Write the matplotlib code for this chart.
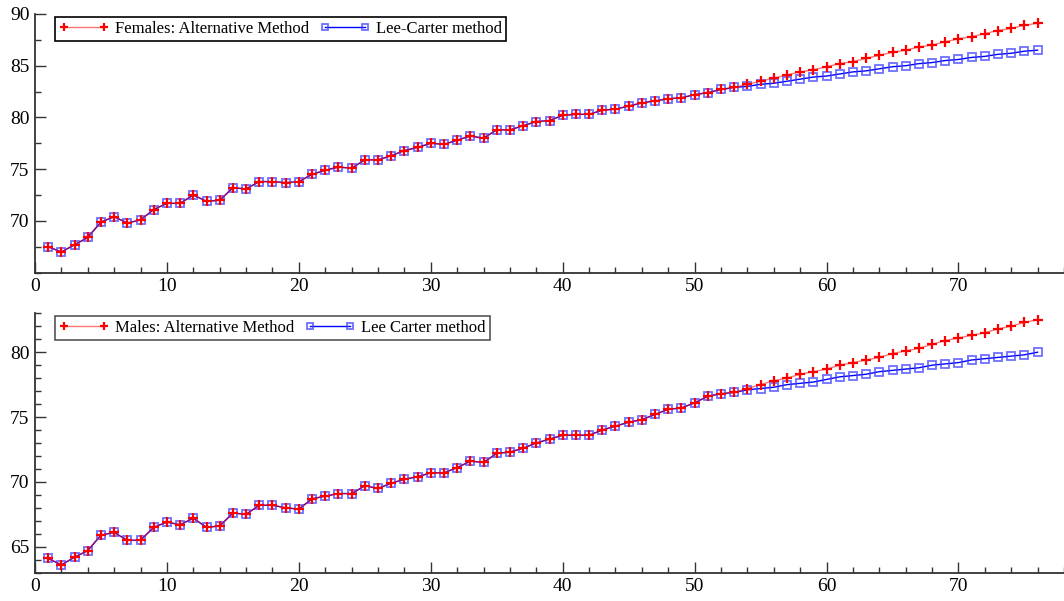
import matplotlib
matplotlib.use("Agg")
import matplotlib.pyplot as plt
from matplotlib.ticker import MultipleLocator
import numpy as np

years = list(range(1, 77))

fem_hist = [67.5, 67.0, 67.7, 68.4, 69.9, 70.4, 69.8, 70.1, 71.1, 71.7,
            71.7, 72.5, 71.9, 72.0, 73.2, 73.1, 73.8, 73.8, 73.7, 73.8,
            74.5, 74.9, 75.2, 75.1, 75.9, 75.9, 76.3, 76.8, 77.1, 77.5,
            77.4, 77.8, 78.2, 78.0, 78.8, 78.8, 79.2, 79.6, 79.7, 80.2,
            80.3, 80.3, 80.7, 80.8, 81.1, 81.4, 81.6, 81.8, 81.9, 82.2,
            82.4, 82.7, 82.9]
fem_alt_fc = [83.2, 83.5, 83.8, 84.1, 84.4, 84.6, 84.9, 85.2, 85.4, 85.7,
              86.0, 86.3, 86.5, 86.8, 87.0, 87.3, 87.6, 87.8, 88.1, 88.4,
              88.6, 88.9, 89.1]
fem_lc_fc = [83.0, 83.2, 83.3, 83.5, 83.7, 83.9, 84.0, 84.2, 84.4, 84.5,
             84.7, 84.9, 85.0, 85.2, 85.3, 85.5, 85.6, 85.8, 85.9, 86.1,
             86.2, 86.4, 86.5]

male_hist = [64.1, 63.6, 64.2, 64.7, 65.9, 66.1, 65.5, 65.5, 66.5, 66.9,
             66.7, 67.2, 66.5, 66.6, 67.6, 67.5, 68.2, 68.2, 68.0, 67.9,
             68.7, 68.9, 69.1, 69.1, 69.7, 69.5, 69.9, 70.2, 70.4, 70.7,
             70.7, 71.1, 71.6, 71.5, 72.2, 72.3, 72.6, 73.0, 73.3, 73.6,
             73.6, 73.6, 74.0, 74.3, 74.6, 74.8, 75.2, 75.6, 75.7, 76.1,
             76.6, 76.8, 76.9]
male_alt_fc = [77.2, 77.5, 77.8, 78.0, 78.3, 78.5, 78.7, 79.0, 79.2, 79.4,
               79.6, 79.9, 80.1, 80.3, 80.6, 80.9, 81.1, 81.3, 81.5, 81.8,
               82.0, 82.3, 82.5]
male_lc_fc = [77.1, 77.2, 77.3, 77.5, 77.6, 77.7, 77.9, 78.1, 78.2, 78.3,
              78.5, 78.6, 78.7, 78.8, 79.0, 79.1, 79.2, 79.4, 79.5, 79.6,
              79.7, 79.8, 80.0]

fem_yticks = [70, 75, 80, 85, 90]
male_yticks = [65, 70, 75, 80]
x_ticks = [0, 10, 20, 30, 40, 50, 60, 70]

plt.rcParams['font.family'] = ['Liberation Serif', 'DejaVu Serif']

fig = plt.figure(figsize=(10.64, 6.01), dpi=100)
ax1 = fig.add_axes([0.0329, 0.5463, 0.9671, 0.4305])
ax2 = fig.add_axes([0.0329, 0.0471, 0.9671, 0.4316])

panels = [
    (ax1, fem_hist + fem_alt_fc, fem_hist + fem_lc_fc,
     "Females: Alternative Method", "Lee-Carter method", (65, 90), 2.5,
     fem_yticks, 'black'),
    (ax2, male_hist + male_alt_fc, male_hist + male_lc_fc,
     "Males: Alternative Method", "Lee Carter method", (63, 83), 1,
     male_yticks, '#555555'),
]

for ax, alt, lc, lab1, lab2, ylim, yminor, yticks, legcol in panels:
    l2, = ax.plot(years, lc, color='blue', lw=1.0, marker='s', ms=5.5,
                  mfc='none', mec=(0.25, 0.25, 1.0, 0.75), mew=1.3, zorder=3)
    l1, = ax.plot(years, alt, color=(1, 0, 0, 0.55), lw=1.0, marker='+',
                  ms=7, mec='red', mew=1.6, zorder=4)
    ax.set_xlim(0, 78)
    ax.set_ylim(*ylim)
    ax.set_xticks(x_ticks)
    ax.xaxis.set_minor_locator(MultipleLocator(2))
    ax.set_yticks(yticks)
    ax.yaxis.set_minor_locator(MultipleLocator(yminor))
    for s in ['top', 'right']:
        ax.spines[s].set_visible(False)
    for s in ['left', 'bottom']:
        ax.spines[s].set_linewidth(1.3)
        ax.spines[s].set_color('#333333')
    ax.tick_params(which='major', direction='in', length=8, width=1.0,
                   color='#333333', labelsize=14, pad=4)
    ax.tick_params(which='minor', direction='in', length=4, width=1.0,
                   color='#333333')
    leg = ax.legend([l1, l2], [lab1, lab2], loc='upper left',
                    bbox_to_anchor=(0.019, 0.99), borderaxespad=0, ncol=2,
                    fancybox=False, framealpha=1, edgecolor=legcol,
                    fontsize=12, numpoints=2, handlelength=3.0,
                    handletextpad=0.4, columnspacing=0.6, borderpad=0.25,
                    markerscale=0.75)
    leg.get_frame().set_linewidth(1.2)

fig.savefig("out.png", dpi=100)
